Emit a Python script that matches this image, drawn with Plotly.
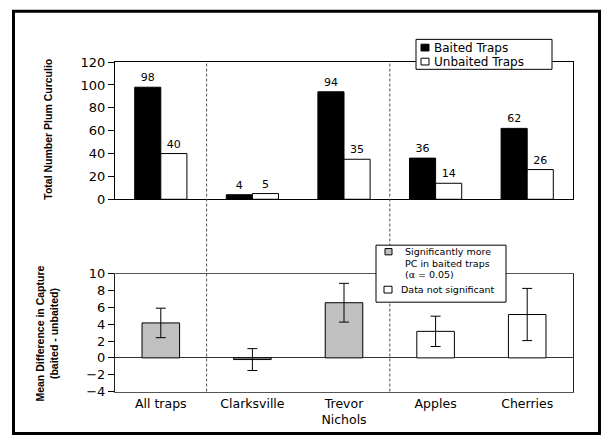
import plotly.graph_objects as go

# ---- data ----
categories = ["All traps", "Clarksville", "Trevor<br>Nichols", "Apples", "Cherries"]
baited = [98, 4, 94, 36, 62]
unbaited = [40, 5, 35, 14, 26]
mean_diff = [4.15, -0.2, 6.55, 3.15, 5.15]
diff_err = [1.75, 1.3, 2.3, 1.8, 3.1]
significant = [True, True, True, False, False]
top_ticks = [0, 20, 40, 60, 80, 100, 120]
bottom_ticks = [-4, -2, 0, 2, 4, 6, 8, 10]

W, H = 602, 444
def fx(px):
    return px / W
def fy(py):
    return 1 - py / H

FONT = "DejaVu Sans, Arial, sans-serif"
TFONT = "Liberation Sans Narrow, Arial Narrow, Liberation Sans, Arial, sans-serif"

xpos = list(range(len(categories)))
fig = go.Figure()

fig.add_trace(go.Bar(
    x=xpos, y=baited, name="Baited Traps",
    marker=dict(color="black", line=dict(color="black", width=1)),
    text=[str(v) for v in baited], textposition="outside",
    textfont=dict(family=FONT, size=11, color="black"),
    cliponaxis=False, xaxis="x", yaxis="y", showlegend=False))
fig.add_trace(go.Bar(
    x=xpos, y=unbaited, name="Unbaited Traps",
    marker=dict(color="white", line=dict(color="black", width=1)),
    text=[str(v) for v in unbaited], textposition="outside",
    textfont=dict(family=FONT, size=11, color="black"),
    cliponaxis=False, xaxis="x", yaxis="y", showlegend=False))

fig.add_trace(go.Bar(
    x=xpos, y=mean_diff, width=0.41,
    marker=dict(color=["#c0c0c0" if s else "white" for s in significant],
                line=dict(color="black", width=1)),
    error_y=dict(type="data", array=diff_err, visible=True,
                 color="black", thickness=1, width=5),
    xaxis="x2", yaxis="y2", showlegend=False))

xdom = [fx(115), fx(573)]
TOP = (57, 199)
BOT = (276, 398)
fig.update_layout(
    width=W, height=H,
    margin=dict(l=0, r=0, t=0, b=0),
    paper_bgcolor="white", plot_bgcolor="white",
    barmode="group", bargap=0.43, bargroupgap=0,
    font=dict(family=FONT, size=13, color="black"),
    xaxis=dict(domain=xdom, anchor="y", range=[-0.5, 4.5],
               showticklabels=False, ticks="", showgrid=False,
               showline=True, linecolor="black", linewidth=1, mirror=True,
               zeroline=False),
    yaxis=dict(domain=[fy(TOP[1]), fy(TOP[0])], anchor="x", range=[0, 120],
               tickvals=top_ticks, ticks="outside", ticklen=6, tickcolor="black",
               showgrid=False, zeroline=False,
               showline=True, linecolor="black", linewidth=1, mirror=True,
               tickfont=dict(size=13)),
    xaxis2=dict(domain=xdom, anchor="y2", range=[-0.5, 4.5],
                tickvals=xpos, ticktext=categories, ticks="",
                tickfont=dict(size=12.5),
                showgrid=False, zeroline=False,
                showline=True, linecolor="#555555", linewidth=1, mirror=True),
    yaxis2=dict(domain=[fy(BOT[1]), fy(BOT[0])], anchor="x2", range=[-4, 10],
                tickvals=bottom_ticks, ticks="outside", ticklen=6, tickcolor="black",
                showgrid=False, zeroline=True, zerolinecolor="#333333", zerolinewidth=1,
                showline=True, linecolor="#222222", linewidth=1, mirror=True,
                tickfont=dict(size=13)),
)

shapes = []
annotations = []
# dashed separators spanning both panels
for xv in [0.5, 2.5]:
    shapes.append(dict(type="line", xref="x", yref="paper", x0=xv, x1=xv,
                       y0=fy(BOT[1]), y1=fy(TOP[0]),
                       line=dict(color="#555555", width=1, dash="3px,2px")))
# outer frame
shapes.append(dict(type="rect", xref="paper", yref="paper",
                   x0=fx(13.5), x1=fx(599.5), y0=fy(441.5), y1=fy(4.5),
                   line=dict(color="black", width=3)))

# axis titles
annotations.append(dict(xref="paper", yref="paper", x=fx(48), y=fy(127),
                        textangle=-90, showarrow=False, xanchor="center", yanchor="middle",
                        text="<b>Total Number Plum Curculio</b>",
                        font=dict(family=TFONT, size=10.5)))
annotations.append(dict(xref="paper", yref="paper", x=fx(47), y=fy(338),
                        textangle=-90, showarrow=False, xanchor="center", yanchor="middle",
                        text="<b>Mean Difference in Capture<br>(baited - unbaited)</b>",
                        font=dict(family=TFONT, size=10.5)))

# legend 1 (manual)
shapes.append(dict(type="rect", xref="paper", yref="paper",
                   x0=fx(416), x1=fx(552), y0=fy(64.5), y1=fy(33.5),
                   fillcolor="white", line=dict(color="black", width=1), layer="above"))
leg1 = [("Baited Traps", "black", 42), ("Unbaited Traps", "white", 56.5)]
for label, col, yc in leg1:
    shapes.append(dict(type="rect", xref="paper", yref="paper",
                       x0=fx(421), x1=fx(429), y0=fy(yc + 3.5), y1=fy(yc - 3.5),
                       fillcolor=col, line=dict(color="black", width=1), layer="above"))
    annotations.append(dict(xref="paper", yref="paper", x=fx(432), y=fy(yc),
                            xanchor="left", yanchor="middle", showarrow=False,
                            text=label, font=dict(family=FONT, size=12)))

# legend 2 (manual)
shapes.append(dict(type="rect", xref="paper", yref="paper",
                   x0=fx(376), x1=fx(506), y0=fy(305.5), y1=fy(246.5),
                   fillcolor="white", line=dict(color="black", width=1), layer="above"))
shapes.append(dict(type="rect", xref="paper", yref="paper",
                   x0=fx(385), x1=fx(392), y0=fy(256.5), y1=fy(250),
                   fillcolor="#c0c0c0", line=dict(color="black", width=1), layer="above"))
leg2_lines = [("Significantly more", 253.5), ("PC in baited traps", 265), ("(\u03b1 = 0.05)", 276.5)]
for txt, yc in leg2_lines:
    annotations.append(dict(xref="paper", yref="paper", x=fx(403), y=fy(yc),
                            xanchor="left", yanchor="middle", showarrow=False,
                            text=txt, font=dict(family=FONT, size=9.5)))
shapes.append(dict(type="rect", xref="paper", yref="paper",
                   x0=fx(384), x1=fx(392), y0=fy(296), y1=fy(289),
                   fillcolor="white", line=dict(color="black", width=1), layer="above"))
annotations.append(dict(xref="paper", yref="paper", x=fx(399), y=fy(292.5),
                        xanchor="left", yanchor="middle", showarrow=False,
                        text="Data not significant", font=dict(family=FONT, size=9.5)))

fig.update_layout(shapes=shapes, annotations=annotations)
fig.write_html("out.html", config={"displayModeBar": False},
               post_script="document.body.style.margin='0';")
